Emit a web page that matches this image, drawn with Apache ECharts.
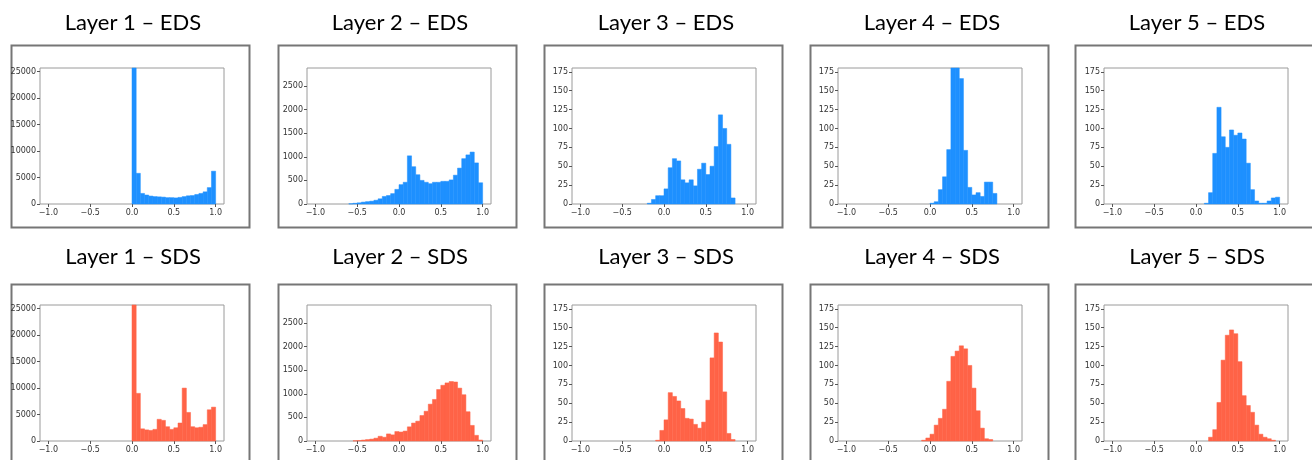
<!DOCTYPE html>
<html lang="en">

<head>
  <meta charset="UTF-8">
  <title>Layer histograms</title>
  <script src="https://cdn.jsdelivr.net/npm/echarts@6.0.0/dist/echarts.min.js"></script>
  <style>
    html, body { margin: 0; padding: 0; background: #fff; }
    #char { width: 1312px; height: 460px; }
  </style>
</head>

<body>
  <div id="char"></div>
  <script>
    // 40 bins of width 0.05 over [-1, 1]; each array holds the count of every bin
    const layers = ['Layer 1', 'Layer 2', 'Layer 3', 'Layer 4', 'Layer 5'];
    const kinds = ['EDS', 'SDS'];
    const xTicks = [-1.0, -0.5, 0.0, 0.5, 1.0];

    const yMax = [25700, 2880, 180, 180, 180];
    const yTicks = [
      [0, 5000, 10000, 15000, 20000, 25000],
      [0, 500, 1000, 1500, 2000, 2500],
      [0, 25, 50, 75, 100, 125, 150, 175],
      [0, 25, 50, 75, 100, 125, 150, 175],
      [0, 25, 50, 75, 100, 125, 150, 175]
    ];

    // EDS (blue)
    const eds1 = [0, 0, 0, 0, 0, 0, 0, 0, 0, 0, 0, 0, 0, 0, 0, 0, 0, 0, 0, 0,
      26000, 5800, 2000, 1700, 1500, 1400, 1350, 1300, 1200, 1200, 1150, 1250, 1400, 1550, 1600, 1800, 2000, 2300, 3100, 6200];
    const eds2 = [0, 0, 0, 0, 0, 0, 0, 0, 5, 15, 25, 40, 50, 60, 80, 110, 160, 180, 220, 310,
      410, 460, 1020, 790, 620, 500, 460, 430, 460, 460, 480, 480, 510, 610, 760, 960, 1040, 1100, 870, 450];
    const eds3 = [0, 0, 0, 0, 0, 0, 0, 0, 0, 0, 0, 0, 0, 0, 0, 0, 1, 6, 11, 11,
      20, 48, 60, 57, 32, 28, 32, 24, 46, 54, 39, 50, 76, 118, 100, 79, 8, 0, 0, 0];
    const eds4 = [0, 0, 0, 0, 0, 0, 0, 0, 0, 0, 0, 0, 0, 0, 0, 0, 0, 0, 0, 0,
      1, 3, 19, 36, 72, 190, 190, 166, 71, 22, 12, 15, 10, 29, 29, 14, 0, 0, 0, 0];
    const eds5 = [0, 0, 0, 0, 0, 0, 0, 0, 0, 0, 0, 0, 0, 0, 0, 0, 0, 0, 0, 0,
      0, 0, 1, 15, 67, 128, 89, 75, 98, 91, 94, 86, 54, 19, 4, 1, 1, 4, 8, 9];

    // SDS (red)
    const sds1 = [0, 0, 0, 0, 0, 0, 0, 0, 0, 0, 0, 0, 0, 0, 0, 0, 0, 0, 0, 0,
      26000, 9000, 2300, 2100, 2000, 2200, 4100, 3900, 2700, 2200, 2500, 3400, 10000, 5400, 2700, 2500, 2600, 3100, 5900, 6400];
    const sds2 = [0, 0, 0, 0, 0, 0, 0, 0, 0, 5, 10, 20, 30, 40, 60, 100, 80, 150, 130, 200,
      190, 210, 300, 380, 420, 540, 630, 780, 880, 1090, 1180, 1230, 1260, 1250, 1120, 980, 620, 330, 120, 20];
    const sds3 = [0, 0, 0, 0, 0, 0, 0, 0, 0, 0, 0, 0, 0, 0, 0, 0, 0, 0, 1, 14,
      28, 64, 59, 53, 43, 30, 29, 22, 17, 25, 54, 110, 143, 131, 65, 10, 2, 0, 0, 0];
    const sds4 = [0, 0, 0, 0, 0, 0, 0, 0, 0, 0, 0, 0, 0, 0, 0, 0, 0, 0, 1, 4,
      9, 21, 30, 42, 79, 112, 119, 126, 122, 100, 70, 40, 17, 3, 2, 0, 0, 0, 0, 0];
    const sds5 = [0, 0, 0, 0, 0, 0, 0, 0, 0, 0, 0, 0, 0, 0, 0, 0, 0, 0, 0, 0,
      0, 0, 0, 5, 15, 51, 107, 140, 147, 142, 105, 60, 47, 38, 21, 9, 5, 3, 1, 0];

    const counts = [[eds1, eds2, eds3, eds4, eds5], [sds1, sds2, sds3, sds4, sds5]];
    const colors = ['#1E90FF', '#FF6347'];

    // layout (pixels)
    const plotLeft = [40, 307, 572, 838, 1104];
    const plotWidth = 184;
    const plotTop = [68, 305];
    const plotHeight = 136;
    const boxLeft = [9, 276, 542, 808, 1073];
    const boxWidth = 238;
    const boxTop = [43, 282];
    const boxHeight = [182, 200];
    const titleTop = [7, 241];

    const chartDom = document.getElementById('char');
    const myChart = echarts.init(chartDom, null, { renderer: 'canvas' });

    const BIN_START = -1;
    const BIN_WIDTH = 0.05;

    function renderBin(params, api) {
      const p0 = api.coord([api.value(0), api.value(2)]);
      const p1 = api.coord([api.value(1), 0]);
      const shape = echarts.graphic.clipRectByRect({
        x: p0[0], y: p0[1], width: p1[0] - p0[0], height: p1[1] - p0[1]
      }, {
        x: params.coordSys.x, y: params.coordSys.y,
        width: params.coordSys.width, height: params.coordSys.height
      });
      const style = api.style();
      // thin same-colour edge hides antialiasing seams between neighbouring bins
      style.stroke = style.fill;
      style.lineWidth = 0.5;
      return shape && { type: 'rect', shape: shape, style: style };
    }

    const fmtX = v => (v < 0 ? '\u2212' : '') + Math.abs(v).toFixed(1);
    const fmtY = v => String(v);
    const tickFont = { fontFamily: 'DejaVu Sans', fontSize: 8, color: '#333' };

    const grid = [], xAxis = [], yAxis = [], series = [], title = [], graphic = [];
    for (let r = 0; r < 2; r++) {
      for (let c = 0; c < 5; c++) {
        const k = grid.length;
        grid.push({
          left: plotLeft[c], top: plotTop[r], width: plotWidth, height: plotHeight,
          show: true, borderColor: '#9a9a9a', borderWidth: 1
        });
        xAxis.push({
          type: 'value', gridIndex: k, min: -1.1, max: 1.1, position: 'bottom',
          splitLine: { show: false }, axisLine: { show: false, onZero: false },
          axisTick: { show: true, length: 3, lineStyle: { color: '#555' }, customValues: xTicks },
          axisLabel: Object.assign({ margin: 5, customValues: xTicks, formatter: fmtX }, tickFont)
        });
        yAxis.push({
          type: 'value', gridIndex: k, min: 0, max: yMax[c], position: 'left',
          splitLine: { show: false }, axisLine: { show: false, onZero: false },
          axisTick: { show: true, length: 3, lineStyle: { color: '#555' }, customValues: yTicks[c] },
          axisLabel: Object.assign({ margin: 4, customValues: yTicks[c], formatter: fmtY }, tickFont)
        });
        const data = [];
        counts[r][c].forEach((n, i) => {
          if (n > 0) {
            const x0 = BIN_START + i * BIN_WIDTH;
            data.push([x0, x0 + BIN_WIDTH, n]);
          }
        });
        series.push({
          type: 'custom', xAxisIndex: k, yAxisIndex: k,
          renderItem: renderBin, itemStyle: { color: colors[r] },
          encode: { x: [0, 1], y: 2 }, data: data, silent: true
        });
        title.push({
          text: layers[c] + ' \u2013 ' + kinds[r],
          left: boxLeft[c] + boxWidth / 2, top: titleTop[r], textAlign: 'center',
          textStyle: { fontFamily: 'Lato', fontWeight: 'normal', fontSize: 22, color: '#000' }
        });
        graphic.push({
          type: 'rect', left: boxLeft[c], top: boxTop[r], z: -1,
          shape: { width: boxWidth, height: boxHeight[r] },
          style: { fill: 'none', stroke: '#767676', lineWidth: 2 }
        });
      }
    }

    const option = {
      backgroundColor: '#fff',
      animation: false,
      title: title,
      grid: grid,
      xAxis: xAxis,
      yAxis: yAxis,
      series: series,
      graphic: graphic
    };
    option && myChart.setOption(option);
  </script>
</body>

</html>
